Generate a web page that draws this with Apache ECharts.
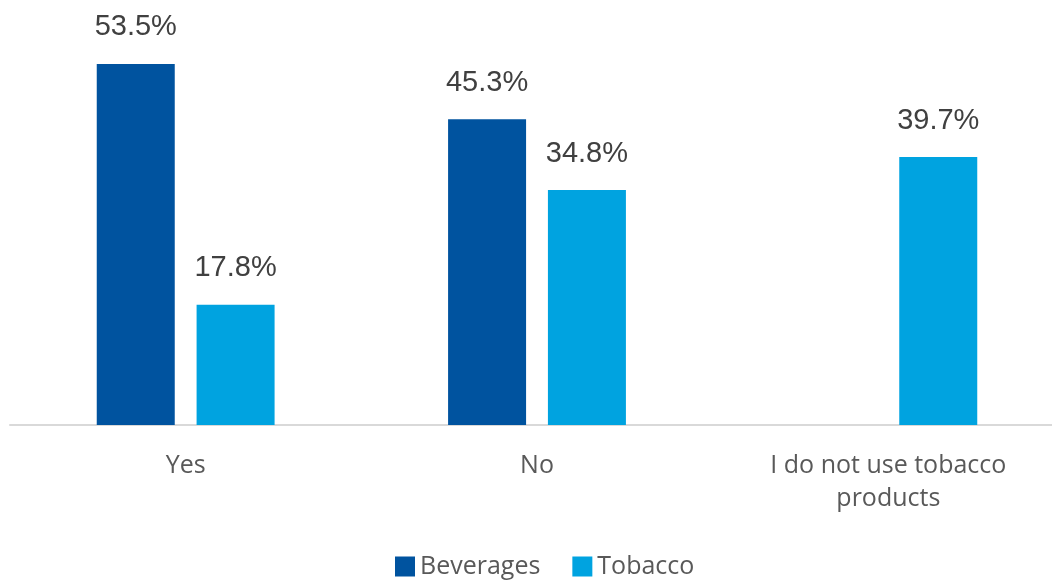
<!DOCTYPE html>
<html>
<head>
<meta charset="utf-8">
<script src="https://cdn.jsdelivr.net/npm/echarts@6/dist/echarts.min.js"></script>
<style>html,body{margin:0;padding:0;background:#fff}#c{width:1052px;height:580px}</style>
</head>
<body>
<div id="c"></div>
<script>
const categories = ['Yes', 'No', 'I do not use tobacco\nproducts'];
const beverages = [53.5, 45.3, null];
const tobacco = [17.8, 34.8, 39.7];
const seriesNames = ['Beverages', 'Tobacco'];

const chart = echarts.init(document.getElementById('c'), null, {renderer: 'canvas'});
const labelStyle = {
  show: true, position: 'top', distance: 22,
  fontFamily: 'Liberation Sans, Arial, sans-serif', fontSize: 29, color: '#404040',
  formatter: p => p.value == null ? '' : p.value.toFixed(1) + '%'
};
chart.setOption({
  animation: false,
  grid: {left: 10, top: 20, right: -12, height: 405, containLabel: false, outerBoundsMode: 'none'},
  legend: {
    data: seriesNames, bottom: -4, left: 390, itemWidth: 20, itemHeight: 20, itemGap: 32,
    icon: 'rect',
    textStyle: {fontFamily: 'Open Sans, sans-serif', fontSize: 25, color: '#595959'}
  },
  xAxis: {
    type: 'category', data: categories,
    axisLine: {lineStyle: {color: '#d9d9d9', width: 2}},
    axisTick: {show: false},
    axisLabel: {fontFamily: 'Open Sans, sans-serif', fontSize: 25, color: '#595959', margin: 24, lineHeight: 33, interval: 0}
  },
  yAxis: {type: 'value', min: 0, max: 60, show: false, splitLine: {show: false}},
  series: [
    {name: seriesNames[0], type: 'bar', data: beverages, barWidth: 78, barGap: '28%',
     itemStyle: {color: '#00539F'}, label: labelStyle},
    {name: seriesNames[1], type: 'bar', data: tobacco, barWidth: 78,
     itemStyle: {color: '#00A3E0'}, label: labelStyle}
  ]
});
</script>
</body>
</html>
